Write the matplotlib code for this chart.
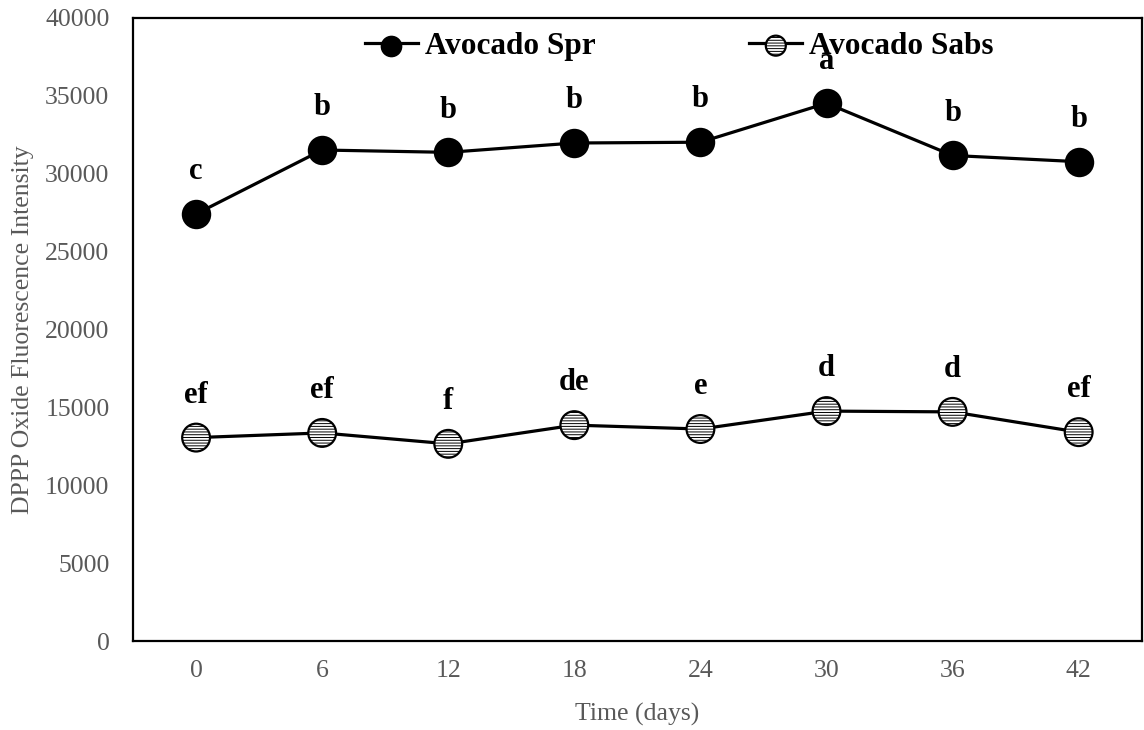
import matplotlib
matplotlib.use('Agg')
import matplotlib.pyplot as plt
import numpy as np

plt.rcParams['font.family'] = ['Liberation Serif', 'DejaVu Serif']
plt.rcParams['hatch.linewidth'] = 0.7

days = ['0', '6', '12', '18', '24', '30', '36', '42']
spr = [27400, 31500, 31350, 31950, 32000, 34500, 31150, 30750]
sabs = [13050, 13350, 12650, 13850, 13600, 14750, 14700, 13400]
spr_letters = ['c', 'b', 'b', 'b', 'b', 'a', 'b', 'b']
sabs_letters = ['ef', 'ef', 'f', 'de', 'e', 'd', 'd', 'ef']

gray = '#595959'
x = np.arange(len(days))

fig = plt.figure(figsize=(11.44, 7.30), dpi=100)
ax = fig.add_axes([0.1163, 0.1219, 0.8817, 0.8541])

# Avocado Spr: solid black circles
ln1, = ax.plot(x, spr, color='black', lw=2.3, zorder=2)
sc1 = ax.scatter(x, spr, s=20**2, facecolor='black', edgecolor='black',
                 linewidth=1.2, zorder=3)

# Avocado Sabs: white circles with horizontal hatching
ln2, = ax.plot(x, sabs, color='black', lw=2.3, zorder=2)
sc2 = ax.scatter(x, sabs, s=20**2, facecolor='white', edgecolor='black',
                 linewidth=1.6, hatch='------', zorder=3)

for xi, yi, t in zip(x, spr, spr_letters):
    ax.annotate(t, (xi, yi), xytext=(0, 25), textcoords='offset points',
                ha='center', va='baseline', fontsize=22, fontweight='bold')
for xi, yi, t in zip(x, sabs, sabs_letters):
    ax.annotate(t, (xi, yi), xytext=(0, 25), textcoords='offset points',
                ha='center', va='baseline', fontsize=22, fontweight='bold')

ax.set_xlim(-0.5, len(days) - 0.5)
ax.set_ylim(0, 40000)
ax.set_xticks(x)
ax.set_xticklabels(days)
ax.set_yticks(np.arange(0, 40001, 5000))
ax.tick_params(length=0, labelsize=18.5, labelcolor=gray)
ax.tick_params(axis='y', pad=17)
ax.tick_params(axis='x', pad=14)

for s in ax.spines.values():
    s.set_linewidth(1.6)
    s.set_color('black')

ax.set_ylabel('DPPP Oxide Fluorescence Intensity', fontsize=18.5, color=gray)
ax.yaxis.set_label_coords(-0.098, 0.5)
ax.set_xlabel('Time (days)', fontsize=18.5, color=gray)
ax.xaxis.set_label_coords(0.5, -0.1)

leg = ax.legend([(ln1, sc1), (ln2, sc2)], ['Avocado Spr', 'Avocado Sabs'],
                loc='upper left', bbox_to_anchor=(0.230, 0.977), ncol=2,
                frameon=False, prop={'size': 22.5, 'weight': 'bold'},
                handlelength=1.69, handletextpad=0.22, columnspacing=4.93,
                borderpad=0, borderaxespad=0, markerscale=0.72)

fig.savefig('out.png', dpi=100)
